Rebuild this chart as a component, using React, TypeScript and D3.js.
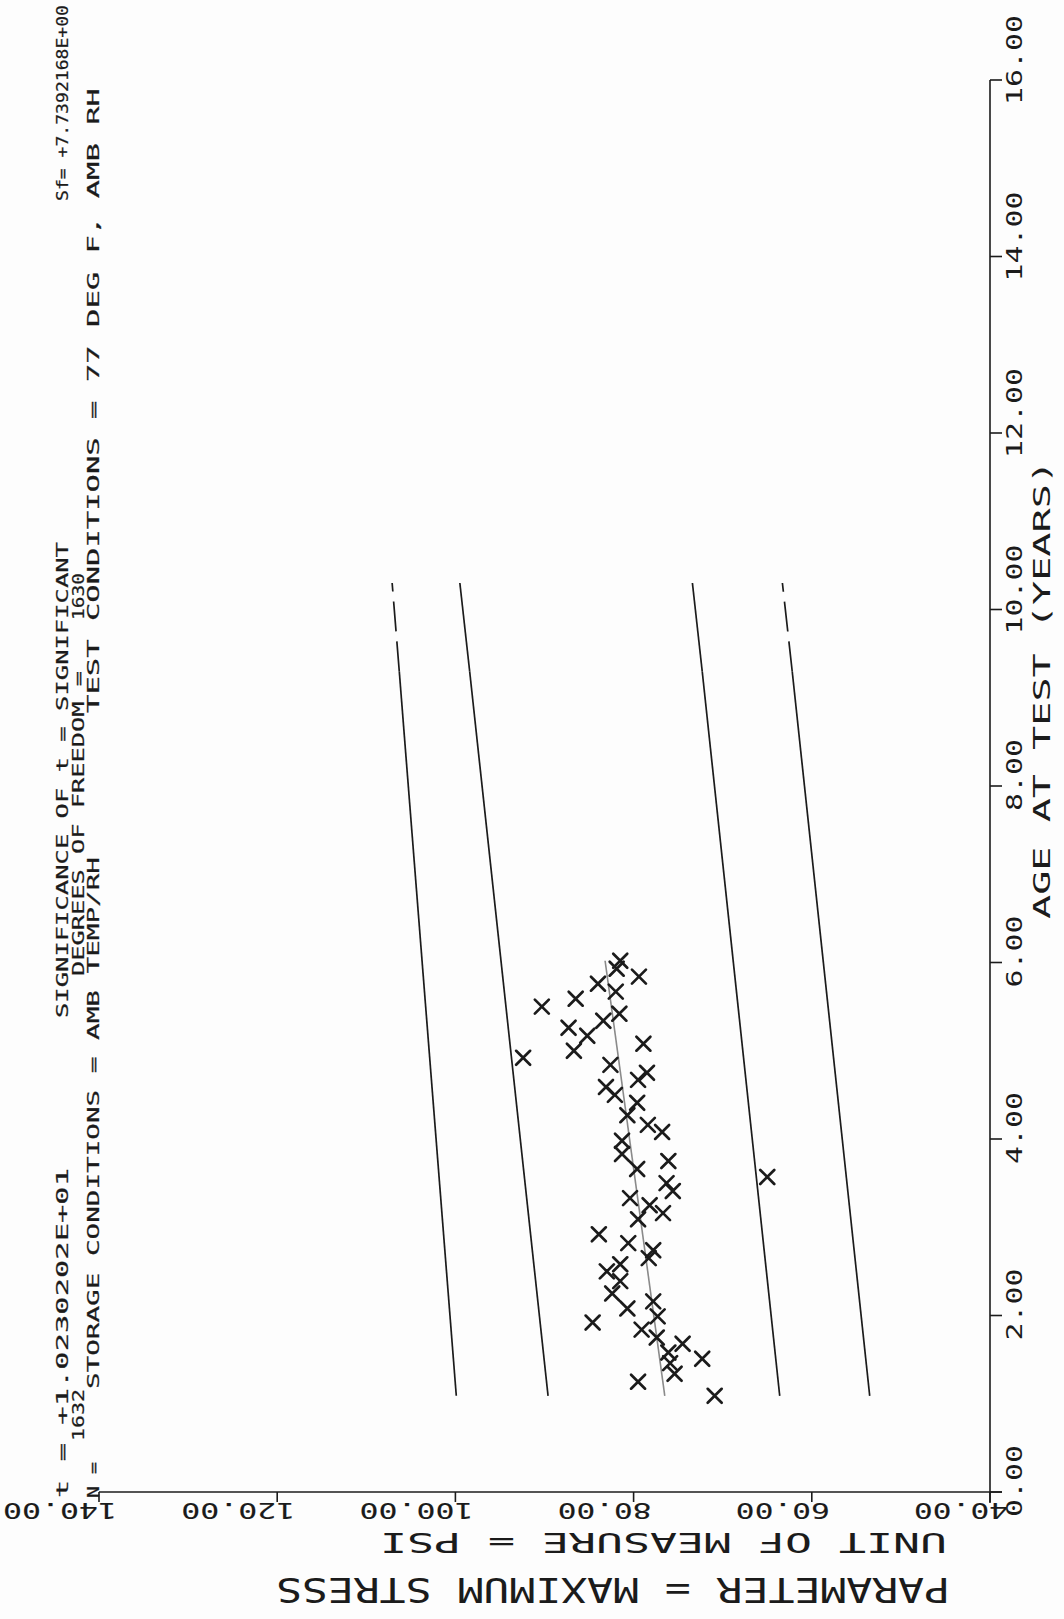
// App.tsx
import React, { useRef, useEffect } from 'react';
import * as d3 from 'd3';

// age at test (years) and maximum stress (psi) of each specimen
const ages = [
  6.02, 5.93, 5.84, 5.76, 5.67, 5.59, 5.50, 5.42, 5.34, 5.26, 5.17, 5.08, 5.00, 4.92,
  4.84, 4.75, 4.67, 4.59, 4.50, 4.41, 4.27, 4.16, 4.08, 3.98, 3.83, 3.75, 3.66, 3.57,
  3.50, 3.41, 3.33, 3.25, 3.16, 3.09, 2.92, 2.82, 2.74, 2.65, 2.58, 2.50, 2.39, 2.25,
  2.16, 2.08, 1.99, 1.92, 1.84, 1.75, 1.68, 1.58, 1.51, 1.46, 1.34, 1.25, 1.09,
];
const stress = [
  81.5, 81.9, 79.4, 84.0, 82.0, 86.5, 90.3, 81.6, 83.4, 87.3, 85.2, 78.9, 86.7, 92.4,
  82.6, 78.5, 79.5, 83.1, 82.1, 79.6, 80.7, 78.4, 76.8, 81.3, 81.3, 76.1, 79.6, 65.0,
  76.3, 75.6, 80.4, 78.2, 76.7, 79.5, 83.9, 80.6, 77.8, 78.3, 81.5, 83.0, 81.5, 82.4,
  77.8, 80.7, 77.3, 84.6, 79.1, 77.4, 74.5, 76.1, 72.3, 75.9, 75.4, 79.5, 70.9,
];

// regression line and limit lines
const regAges = [1.09, 6.02];
const regStress = [76.5, 83.2];
const bandAges = [1.09, 9.3, 10.3];
const upperOuter = [99.9, 106.3, 107.1];
const upperInner = [89.6, 98.4, 99.5];
const lowerInner = [63.6, 72.3, 73.4];
const lowerOuter = [53.5, 62.2, 63.3];

const ageTicks = [0, 2, 4, 6, 8, 10, 12, 14, 16];
const psiTicks = [40, 60, 80, 100, 120, 140];

const headerLeft = ['t = +1.0230202E+01', '1632', 'N =', 'STORAGE CONDITIONS = AMB TEMP/RH'];
const headerRight = [
  'SIGNIFICANCE OF t = SIGNIFICANT', 'Sf= +7.7392168E+00',
  'DEGREES OF FREEDOM =', '1630', 'TEST CONDITIONS = 77 DEG F, AMB RH',
];
const xTitle = 'AGE AT TEST   (YEARS)';
const yTitle = 'UNIT OF MEASURE = PSI';
const paramTitle = 'PARAMETER  =  MAXIMUM STRESS';

const FONT = '"DejaVu Sans Mono", "Liberation Mono", monospace';
const INK = '#1b1b1b';

const App = () => {
  const svgRef = useRef(null);
  const width = 1064;
  const height = 1619;

  useEffect(() => {
    if (!svgRef.current) return;
    const svg = d3.select(svgRef.current);
    svg.selectAll('*').remove();

    // the plot is printed sideways: age runs up, stress runs right-to-left
    const y = d3.scaleLinear().domain([0, 16]).range([1492, 80]);
    const x = d3.scaleLinear().domain([40, 140]).range([990, 99]);

    svg.append('rect').attr('width', width).attr('height', height).attr('fill', '#fdfdfd');

    const addText = (str, transform, len, size, weight) =>
      svg.append('text')
        .attr('transform', transform)
        .attr('font-family', FONT)
        .attr('font-size', size)
        .attr('fill', INK)
        .attr('stroke', INK)
        .attr('stroke-width', weight)
        .attr('textLength', len)
        .attr('lengthAdjust', 'spacingAndGlyphs')
        .text(str);

    // text running bottom-to-top, centred on column cx
    const upText = (str, cx, yStart, len, size, weight = 0.2) =>
      addText(str, `translate(${cx + size * 0.365},${yStart}) rotate(-90)`, len, size, weight);
    // text turned upside down, starting at xRight, glyph tops at yTop
    const flipText = (str, xRight, yTop, len, size, weight = 0.1) =>
      addText(str, `translate(${xRight},${yTop}) rotate(180)`, len, size, weight);

    // header block
    upText(headerLeft[0], 63, 1498, 330, 15);
    upText(headerLeft[1], 79, 1441, 52, 15);
    upText(headerLeft[2], 94, 1498, 36, 15);
    upText(headerLeft[3], 94, 1389, 532, 15);
    upText(headerRight[0], 63, 1018, 476, 15);
    upText(headerRight[1], 63, 201, 196, 15);
    upText(headerRight[2], 79, 976, 305, 15);
    upText(headerRight[3], 79, 620, 47, 15);
    upText(headerRight[4], 94, 713, 625, 15);

    // axes
    const axis = svg.append('g').attr('stroke', INK).attr('stroke-width', 1.6).attr('fill', 'none');
    axis.append('line').attr('x1', 990).attr('x2', 990).attr('y1', y(16)).attr('y2', y(0) + 11);
    axis.append('line').attr('x1', x(140)).attr('x2', x(40) + 12).attr('y1', y(0)).attr('y2', y(0));
    ageTicks.forEach(t => {
      axis.append('line').attr('x1', 990).attr('x2', 1002).attr('y1', y(t)).attr('y2', y(t));
      upText(d3.format('.2f')(t), 1014, y(t) + 25, t >= 10 ? 90 : 72, 21, 0);
    });
    psiTicks.forEach(t => {
      axis.append('line').attr('x1', x(t)).attr('x2', x(t)).attr('y1', y(0)).attr('y2', y(0) + 10);
      flipText(d3.format('.2f')(t), x(t) + 18, 1503, t >= 100 ? 114 : 94, 22);
    });

    upText(xTitle, 1042, 919, 459, 23, 0);
    flipText(yTitle, 947, 1533, 567, 27, 0);
    flipText(paramTitle, 950, 1578, 674, 33, 0);

    // limit lines, outer ones broken near the top
    const line = d3.line().x(d => x(d[1])).y(d => y(d[0]));
    const drawBand = (vals, outer) => {
      const pts = bandAges.map((a, i) => [a, vals[i]]);
      svg.append('path')
        .attr('d', line(pts.slice(0, 2)))
        .attr('stroke', INK).attr('stroke-width', 1.7).attr('fill', 'none');
      svg.append('path')
        .attr('d', line(pts.slice(1)))
        .attr('stroke', INK).attr('stroke-width', 1.7).attr('fill', 'none')
        .attr('stroke-dasharray', outer ? '30 10' : null);
    };
    drawBand(upperOuter, true);
    drawBand(upperInner, false);
    drawBand(lowerInner, false);
    drawBand(lowerOuter, true);

    svg.append('path')
      .attr('d', line(regAges.map((a, i) => [a, regStress[i]])))
      .attr('stroke', '#8a8a8a').attr('stroke-width', 1.6).attr('fill', 'none');

    // data marks
    const s = 7;
    const marks = svg.append('g').attr('stroke', INK).attr('stroke-width', 2.7).attr('stroke-linecap', 'round');
    ages.forEach((a, i) => {
      const cx = x(stress[i]);
      const cy = y(a);
      marks.append('path').attr('d', `M${cx - s},${cy - s}L${cx + s},${cy + s}M${cx - s},${cy + s}L${cx + s},${cy - s}`);
    });
  }, []);

  return (
    <svg
      ref={svgRef}
      width={width}
      height={height}
      style={{ position: 'absolute', left: 0, top: 0 }}
    />
  );
};

export default App;
